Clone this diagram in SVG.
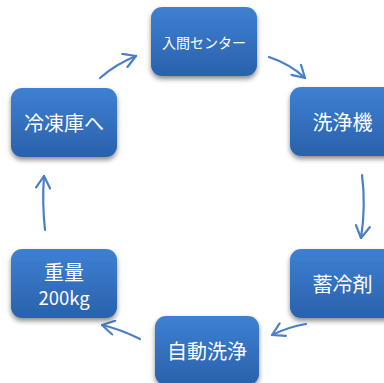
<svg xmlns="http://www.w3.org/2000/svg" width="384" height="383" viewBox="0 0 384 383">
<defs>
<linearGradient id="g" x1="0" y1="0" x2="0" y2="1">
<stop offset="0" stop-color="#3d80d2"/>
<stop offset="1" stop-color="#2a61ac"/>
</linearGradient>
<filter id="sh" x="-20%" y="-20%" width="140%" height="150%">
<feDropShadow dx="0" dy="3" stdDeviation="2.5" flood-color="#000" flood-opacity="0.45"/>
</filter>
<marker id="ah" viewBox="0 0 16 16" refX="14" refY="8" markerWidth="16" markerHeight="16" markerUnits="userSpaceOnUse" orient="auto">
<polyline points="2,1 14,8 2,15" fill="none" stroke="#4a7fc7" stroke-width="2.2" stroke-linecap="round" stroke-linejoin="round"/>
</marker>
</defs>
<style>
.box{fill:url(#g);filter:url(#sh);}
.t{fill:#fff;font-family:"Noto Sans CJK JP","Noto Sans",sans-serif;text-anchor:middle;dominant-baseline:central;}
.c{fill:none;stroke:#4a7fc7;stroke-width:2.2;stroke-linecap:round;marker-end:url(#ah);}
</style>
<rect width="384" height="383" fill="#fff"/>
<g id="connectors">
<path class="c" d="M100,78 Q116,64 136,56"/>
<path class="c" d="M269,57 Q290,64 305,78"/>
<path class="c" d="M362,175 Q366,206 361,238"/>
<path class="c" d="M306,324 Q288,327 272,335"/>
<path class="c" d="M140,339 Q120,329 102,325"/>
<path class="c" d="M45,230 Q42,203 44,176"/>
</g>
<g id="n1"><rect class="box" x="151" y="7" width="106" height="69" rx="11"/><text class="t" x="204" y="42" font-size="14">入間センター</text></g>
<g id="n2"><rect class="box" x="290" y="87" width="106" height="69" rx="11"/><text class="t" x="342.5" y="121.5" font-size="20">洗浄機</text></g>
<g id="n3"><rect class="box" x="290" y="249" width="106" height="69" rx="11"/><text class="t" x="342.5" y="283" font-size="20">蓄冷剤</text></g>
<g id="n4"><rect class="box" x="155" y="316" width="104" height="69" rx="11"/><text class="t" x="207" y="350" font-size="20">自動洗浄</text></g>
<g id="n5"><rect class="box" x="11" y="249" width="106" height="69" rx="11"/><text class="t" x="64" y="271" font-size="20">重量</text><text class="t" x="64" y="297" font-size="18.5">200kg</text></g>
<g id="n6"><rect class="box" x="11" y="88" width="106" height="69" rx="11"/><text class="t" x="64" y="122.5" font-size="20">冷凍庫へ</text></g>
</svg>
